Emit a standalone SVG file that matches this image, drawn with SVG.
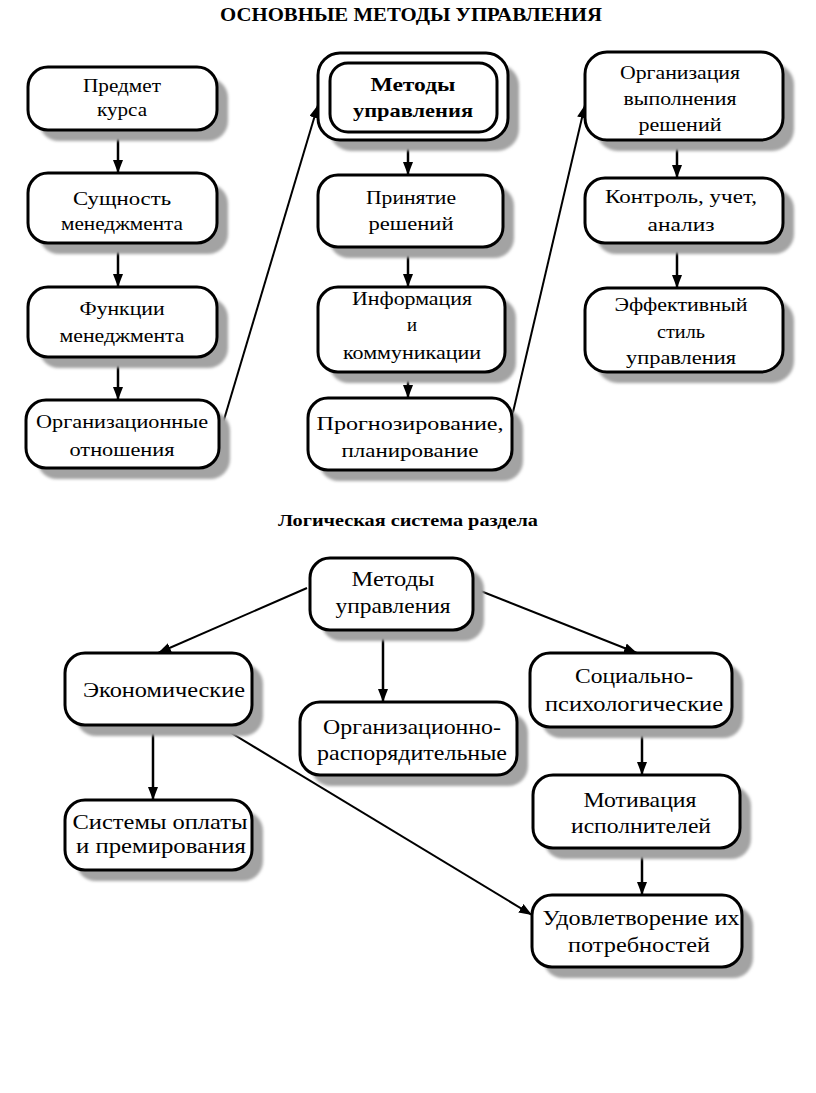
<svg xmlns="http://www.w3.org/2000/svg" width="816" height="1093" viewBox="0 0 816 1093" font-family="'Liberation Serif', 'Times New Roman', 'DejaVu Serif', serif">
<style>
.bg{fill:#fff}
.box{fill:#fff;stroke:#000;stroke-width:3}
.sh{fill:#a3a3a3}
.t{font-family:'Liberation Serif', serif;font-size:19px;text-anchor:middle;fill:#000}
.tb{font-family:'Liberation Serif', serif;font-size:21px;text-anchor:middle;fill:#000}
.b{font-weight:bold}
.h{font-family:'Liberation Serif', serif;font-weight:bold;text-anchor:middle;fill:#000}
.c{stroke:#000;stroke-width:2;fill:none}
.cv{stroke:#000;stroke-width:2.5;fill:none}
</style>
<defs>
<marker id="ah" markerUnits="userSpaceOnUse" markerWidth="14" markerHeight="12" refX="13" refY="5" orient="auto">
<path d="M0,0 L13,5 L0,10 z" fill="#000"/>
</marker>
<filter id="blur" x="-10%" y="-10%" width="120%" height="120%"><feGaussianBlur stdDeviation="1.5"/></filter>
</defs>
<rect class="bg" x="0" y="0" width="816" height="1093"/>

<text class="h" x="411" y="21" font-size="19" textLength="382" lengthAdjust="spacingAndGlyphs">ОСНОВНЫЕ МЕТОДЫ УПРАВЛЕНИЯ</text>
<text class="h" x="408" y="526" font-size="17" textLength="260" lengthAdjust="spacingAndGlyphs">Логическая система раздела</text>

<g id="connectors">
<line class="cv" x1="118" y1="130" x2="118" y2="173" marker-end="url(#ah)"/>
<line class="cv" x1="118" y1="243" x2="118" y2="287" marker-end="url(#ah)"/>
<line class="cv" x1="118" y1="357" x2="118" y2="400" marker-end="url(#ah)"/>
<line class="cv" x1="408" y1="140" x2="408" y2="175" marker-end="url(#ah)"/>
<line class="cv" x1="408" y1="247" x2="408" y2="287" marker-end="url(#ah)"/>
<line class="cv" x1="408" y1="372" x2="408" y2="398" marker-end="url(#ah)"/>
<line class="cv" x1="677" y1="140" x2="677" y2="178" marker-end="url(#ah)"/>
<line class="cv" x1="677" y1="243" x2="677" y2="288" marker-end="url(#ah)"/>
<line class="c" x1="220" y1="433" x2="318" y2="105" marker-end="url(#ah)"/>
<line class="c" x1="510" y1="425" x2="585" y2="105" marker-end="url(#ah)"/>

<line class="c" x1="307" y1="588" x2="158" y2="653" marker-end="url(#ah)"/>
<line class="c" x1="473" y1="588" x2="637" y2="653" marker-end="url(#ah)"/>
<line class="cv" x1="383" y1="630" x2="383" y2="702" marker-end="url(#ah)"/>
<line class="cv" x1="153" y1="725" x2="153" y2="800" marker-end="url(#ah)"/>
<line class="cv" x1="642" y1="727" x2="642" y2="775" marker-end="url(#ah)"/>
<line class="cv" x1="642" y1="848" x2="642" y2="895" marker-end="url(#ah)"/>
<line class="c" x1="223" y1="728" x2="532" y2="915" marker-end="url(#ah)"/>
</g>

<g id="n-predmet">
<rect class="sh" filter="url(#blur)" x="39" y="78" width="189" height="63" rx="20"/>
<rect class="box" x="28" y="67" width="189" height="63" rx="20"/>
<text class="t" x="122" y="92" textLength="78" lengthAdjust="spacingAndGlyphs">Предмет</text>
<text class="t" x="122" y="116" textLength="50" lengthAdjust="spacingAndGlyphs">курса</text>
</g>
<g id="n-sushch">
<rect class="sh" filter="url(#blur)" x="39" y="184" width="189" height="70" rx="20"/>
<rect class="box" x="28" y="173" width="189" height="70" rx="20"/>
<text class="t" x="122" y="205" textLength="98" lengthAdjust="spacingAndGlyphs">Сущность</text>
<text class="t" x="122" y="230" textLength="122" lengthAdjust="spacingAndGlyphs">менеджмента</text>
</g>
<g id="n-funk">
<rect class="sh" filter="url(#blur)" x="39" y="298" width="189" height="70" rx="20"/>
<rect class="box" x="28" y="287" width="189" height="70" rx="20"/>
<text class="t" x="122" y="315" textLength="85" lengthAdjust="spacingAndGlyphs">Функции</text>
<text class="t" x="122" y="342" textLength="125" lengthAdjust="spacingAndGlyphs">менеджмента</text>
</g>
<g id="n-orgotn">
<rect class="sh" filter="url(#blur)" x="37" y="411" width="193" height="68" rx="20"/>
<rect class="box" x="26" y="400" width="193" height="68" rx="20"/>
<text class="t" x="122" y="428" textLength="172" lengthAdjust="spacingAndGlyphs">Организационные</text>
<text class="t" x="122" y="456" textLength="105" lengthAdjust="spacingAndGlyphs">отношения</text>
</g>

<g id="n-metody-top">
<rect class="sh" filter="url(#blur)" x="329" y="64" width="190" height="87" rx="22"/>
<rect class="box" x="318" y="53" width="190" height="87" rx="22"/>
<rect class="box" x="330" y="63" width="167" height="69" rx="18"/>
<text class="t b" x="413" y="91" textLength="85" lengthAdjust="spacingAndGlyphs">Методы</text>
<text class="t b" x="413" y="117" textLength="120" lengthAdjust="spacingAndGlyphs">управления</text>
</g>
<g id="n-prin">
<rect class="sh" filter="url(#blur)" x="329" y="186" width="185" height="72" rx="20"/>
<rect class="box" x="318" y="175" width="185" height="72" rx="20"/>
<text class="t" x="411" y="204" textLength="90" lengthAdjust="spacingAndGlyphs">Принятие</text>
<text class="t" x="411" y="230" textLength="85" lengthAdjust="spacingAndGlyphs">решений</text>
</g>
<g id="n-info">
<rect class="sh" filter="url(#blur)" x="329" y="298" width="187" height="85" rx="20"/>
<rect class="box" x="318" y="287" width="187" height="85" rx="20"/>
<text class="t" x="412" y="305" textLength="120" lengthAdjust="spacingAndGlyphs">Информация</text>
<text class="t" x="412" y="331" textLength="10" lengthAdjust="spacingAndGlyphs">и</text>
<text class="t" x="412" y="359" textLength="138" lengthAdjust="spacingAndGlyphs">коммуникации</text>
</g>
<g id="n-progn">
<rect class="sh" filter="url(#blur)" x="319" y="409" width="204" height="72" rx="20"/>
<rect class="box" x="308" y="398" width="204" height="72" rx="20"/>
<text class="t" x="410" y="430" textLength="187" lengthAdjust="spacingAndGlyphs">Прогнозирование,</text>
<text class="t" x="410" y="457" textLength="137" lengthAdjust="spacingAndGlyphs">планирование</text>
</g>

<g id="n-orgvyp">
<rect class="sh" filter="url(#blur)" x="596" y="63" width="198" height="88" rx="22"/>
<rect class="box" x="585" y="52" width="198" height="88" rx="22"/>
<text class="t" x="680" y="79" textLength="120" lengthAdjust="spacingAndGlyphs">Организация</text>
<text class="t" x="680" y="105" textLength="113" lengthAdjust="spacingAndGlyphs">выполнения</text>
<text class="t" x="680" y="131" textLength="83" lengthAdjust="spacingAndGlyphs">решений</text>
</g>
<g id="n-kontrol">
<rect class="sh" filter="url(#blur)" x="596" y="189" width="198" height="65" rx="20"/>
<rect class="box" x="585" y="178" width="198" height="65" rx="20"/>
<text class="t" x="681" y="203" textLength="152" lengthAdjust="spacingAndGlyphs">Контроль, учет,</text>
<text class="t" x="681" y="231" textLength="67" lengthAdjust="spacingAndGlyphs">анализ</text>
</g>
<g id="n-effekt">
<rect class="sh" filter="url(#blur)" x="596" y="299" width="198" height="84" rx="22"/>
<rect class="box" x="585" y="288" width="198" height="84" rx="22"/>
<text class="t" x="681" y="311" textLength="133" lengthAdjust="spacingAndGlyphs">Эффективный</text>
<text class="t" x="681" y="338" textLength="48" lengthAdjust="spacingAndGlyphs">стиль</text>
<text class="t" x="681" y="364" textLength="110" lengthAdjust="spacingAndGlyphs">управления</text>
</g>

<g id="n-metody-bot">
<rect class="sh" filter="url(#blur)" x="321" y="569" width="163" height="72" rx="20"/>
<rect class="box" x="310" y="558" width="163" height="72" rx="20"/>
<text class="tb" x="393" y="586" textLength="83" lengthAdjust="spacingAndGlyphs">Методы</text>
<text class="tb" x="393" y="613" textLength="115" lengthAdjust="spacingAndGlyphs">управления</text>
</g>
<g id="n-ekon">
<rect class="sh" filter="url(#blur)" x="76" y="664" width="187" height="72" rx="20"/>
<rect class="box" x="65" y="653" width="187" height="72" rx="20"/>
<text class="tb" x="164" y="697" textLength="162" lengthAdjust="spacingAndGlyphs">Экономические</text>
</g>
<g id="n-orgrasp">
<rect class="sh" filter="url(#blur)" x="311" y="713" width="217" height="73" rx="20"/>
<rect class="box" x="300" y="702" width="217" height="73" rx="20"/>
<text class="tb" x="412" y="734" textLength="178" lengthAdjust="spacingAndGlyphs">Организационно-</text>
<text class="tb" x="412" y="760" textLength="190" lengthAdjust="spacingAndGlyphs">распорядительные</text>
</g>
<g id="n-socpsy">
<rect class="sh" filter="url(#blur)" x="541" y="664" width="202" height="74" rx="20"/>
<rect class="box" x="530" y="653" width="202" height="74" rx="20"/>
<text class="tb" x="634" y="683" textLength="118" lengthAdjust="spacingAndGlyphs">Социально-</text>
<text class="tb" x="634" y="711" textLength="178" lengthAdjust="spacingAndGlyphs">психологические</text>
</g>
<g id="n-sistemy">
<rect class="sh" filter="url(#blur)" x="76" y="811" width="187" height="70" rx="20"/>
<rect class="box" x="65" y="800" width="187" height="70" rx="20"/>
<text class="tb" x="160" y="829" textLength="175" lengthAdjust="spacingAndGlyphs">Системы оплаты</text>
<text class="tb" x="161" y="853" textLength="170" lengthAdjust="spacingAndGlyphs">и премирования</text>
</g>
<g id="n-motiv">
<rect class="sh" filter="url(#blur)" x="544" y="786" width="207" height="73" rx="20"/>
<rect class="box" x="533" y="775" width="207" height="73" rx="20"/>
<text class="tb" x="640" y="807" textLength="113" lengthAdjust="spacingAndGlyphs">Мотивация</text>
<text class="tb" x="641" y="833" textLength="140" lengthAdjust="spacingAndGlyphs">исполнителей</text>
</g>
<g id="n-udovl">
<rect class="sh" filter="url(#blur)" x="543" y="906" width="210" height="72" rx="20"/>
<rect class="box" x="532" y="895" width="210" height="72" rx="20"/>
<text class="tb" x="641" y="925" textLength="197" lengthAdjust="spacingAndGlyphs">Удовлетворение их</text>
<text class="tb" x="639" y="952" textLength="142" lengthAdjust="spacingAndGlyphs">потребностей</text>
</g>
</svg>
